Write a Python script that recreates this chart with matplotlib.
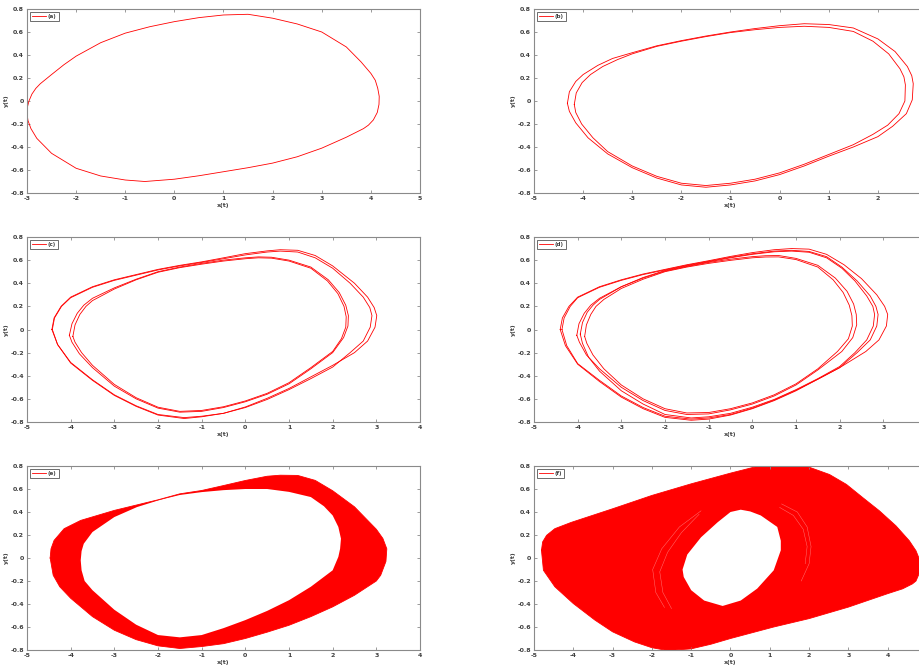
"""
x(t)-y(t) phase portraits, six panels (a)-(f)
"""
import matplotlib
matplotlib.use('Agg')
import matplotlib.pyplot as plt

plt.rcParams.update({'font.family': 'DejaVu Sans', 'axes.unicode_minus': False})

# ===== data =====
# (a) single loop
a_x = [-3.0, -2.99, -2.96, -2.9, -2.82, -2.73, -2.5, -2.25, -2.0, -1.5, -1.0, -0.5, 0.0, 0.5, 1.0, 1.5, 2.0, 2.5, 3.0, 3.5, 3.8, 4.0,
       4.09, 4.14, 4.17, 4.165, 4.13, 4.05, 3.95, 3.85, 3.5, 3.0, 2.5, 2.0, 1.5, 1.0, 0.5, 0.0, -0.6, -1.0, -1.5, -2.0, -2.5, -2.8,
       -2.92, -2.98, -3.0]
a_y = [-0.11, -0.05, 0.0, 0.06, 0.11, 0.15, 0.23, 0.315, 0.39, 0.507, 0.59, 0.646, 0.69, 0.725, 0.748, 0.754, 0.72, 0.67, 0.60, 0.47, 0.34, 0.24,
       0.18, 0.11, 0.04, -0.03, -0.1, -0.165, -0.21, -0.24, -0.315, -0.41, -0.485, -0.54, -0.58, -0.615, -0.65, -0.68, -0.70, -0.687, -0.652, -0.585, -0.455, -0.325,
       -0.24, -0.17, -0.11]

# (b) two loops
b1_x = [-4.32, -4.28, -4.15, -4.0, -3.7, -3.4, -3.0, -2.5, -2.0, -1.5, -1.0, -0.5, 0.0, 0.5, 1.0, 1.5, 2.0, 2.35, 2.6, 2.69, 2.72,
        2.7, 2.58, 2.3, 2.0, 1.5, 1.0, 0.5, 0.0, -0.5, -1.0, -1.5, -2.0, -2.5, -3.0, -3.5, -3.9, -4.15, -4.28, -4.32]
b1_y = [-0.02, 0.08, 0.17, 0.23, 0.31, 0.37, 0.42, 0.48, 0.525, 0.565, 0.60, 0.63, 0.655, 0.672, 0.665, 0.635, 0.54, 0.43, 0.30, 0.22, 0.15,
        0.01, -0.11, -0.22, -0.31, -0.40, -0.48, -0.565, -0.64, -0.695, -0.73, -0.75, -0.73, -0.67, -0.58, -0.46, -0.32, -0.19, -0.09, -0.02]
b2_x = [-4.18, -4.14, -4.02, -3.85, -3.6, -3.3, -3.0, -2.5, -2.0, -1.5, -1.0, -0.5, 0.0, 0.5, 1.0, 1.5, 1.9, 2.22, 2.45, 2.53, 2.56,
        2.55, 2.43, 2.2, 1.9, 1.5, 1.0, 0.5, 0.0, -0.5, -1.0, -1.5, -2.0, -2.5, -3.0, -3.5, -3.8, -4.03, -4.15, -4.18]
b2_y = [-0.03, 0.07, 0.16, 0.23, 0.30, 0.36, 0.41, 0.475, 0.52, 0.56, 0.595, 0.62, 0.64, 0.65, 0.64, 0.605, 0.52, 0.41, 0.28, 0.21, 0.14,
        0.0, -0.11, -0.21, -0.29, -0.38, -0.465, -0.55, -0.625, -0.68, -0.715, -0.735, -0.715, -0.655, -0.565, -0.44, -0.32, -0.2, -0.1, -0.03]

# (c) four loops
c1_x = [-4.43, -4.38, -4.22, -4.0, -3.5, -3.0, -2.5, -2.0, -1.5, -1.0, -0.5, 0.0, 0.5, 0.8, 1.2, 1.6, 2.0, 2.5, 2.8, 2.95,
        3.01, 2.97, 2.8, 2.5, 2.0, 1.5, 1.0, 0.5, 0.0, -0.5, -1.0, -1.4, -2.0, -2.5, -3.0, -3.5, -4.0, -4.3, -4.43]
c1_y = [0.0, 0.1, 0.2, 0.28, 0.37, 0.43, 0.475, 0.52, 0.555, 0.585, 0.62, 0.656, 0.68, 0.69, 0.685, 0.64, 0.55, 0.40, 0.28, 0.19,
        0.12, 0.02, -0.1, -0.2, -0.31, -0.41, -0.51, -0.595, -0.67, -0.725, -0.755, -0.77, -0.74, -0.665, -0.57, -0.44, -0.29, -0.13, 0.0]
c2_x = [-4.42, -4.37, -4.21, -4.0, -3.5, -3.0, -2.5, -2.0, -1.5, -1.0, -0.5, 0.0, 0.5, 0.8, 1.2, 1.6, 2.0, 2.4, 2.7, 2.85,
        2.9, 2.86, 2.7, 2.4, 2.0, 1.5, 1.0, 0.5, 0.0, -0.5, -1.0, -1.4, -2.0, -2.5, -3.0, -3.5, -4.0, -4.3, -4.42]
c2_y = [0.0, 0.1, 0.2, 0.275, 0.365, 0.425, 0.47, 0.515, 0.55, 0.58, 0.612, 0.645, 0.67, 0.678, 0.67, 0.62, 0.53, 0.40, 0.28, 0.19,
        0.12, 0.02, -0.1, -0.2, -0.325, -0.425, -0.52, -0.605, -0.675, -0.725, -0.75, -0.762, -0.735, -0.66, -0.565, -0.435, -0.285, -0.13, 0.0]
c3_x = [-4.03, -3.97, -3.85, -3.7, -3.5, -3.0, -2.5, -2.0, -1.5, -1.0, -0.5, 0.0, 0.3, 0.6, 1.0, 1.5, 1.9, 2.15, 2.3, 2.36,
        2.35, 2.25, 2.0, 1.5, 1.0, 0.5, 0.0, -0.5, -1.0, -1.5, -2.0, -2.5, -3.0, -3.5, -3.8, -3.97, -4.03]
c3_y = [-0.05, 0.05, 0.14, 0.21, 0.27, 0.36, 0.435, 0.50, 0.54, 0.572, 0.60, 0.62, 0.628, 0.625, 0.60, 0.54, 0.43, 0.32, 0.21, 0.12,
        0.03, -0.07, -0.2, -0.34, -0.47, -0.56, -0.625, -0.675, -0.708, -0.715, -0.68, -0.60, -0.49, -0.33, -0.21, -0.11, -0.05]
c4_x = [-3.95, -3.9, -3.79, -3.65, -3.5, -3.0, -2.5, -2.0, -1.5, -1.0, -0.5, 0.0, 0.3, 0.6, 1.0, 1.5, 1.88, 2.12, 2.26, 2.31,
        2.3, 2.2, 2.0, 1.5, 1.0, 0.5, 0.0, -0.5, -1.0, -1.5, -2.0, -2.5, -3.0, -3.5, -3.75, -3.9, -3.95]
c4_y = [-0.06, 0.04, 0.13, 0.2, 0.25, 0.35, 0.43, 0.495, 0.535, 0.565, 0.592, 0.612, 0.62, 0.617, 0.592, 0.53, 0.42, 0.31, 0.2, 0.11,
        0.02, -0.08, -0.19, -0.33, -0.46, -0.552, -0.618, -0.668, -0.7, -0.708, -0.672, -0.59, -0.475, -0.31, -0.2, -0.11, -0.06]

# (d) five loops
d1_x = [-4.40, -4.35, -4.2, -4.0, -3.5, -3.0, -2.5, -2.0, -1.5, -1.0, -0.5, 0.0, 0.5, 0.9, 1.3, 1.7, 2.1, 2.5, 2.85, 3.03,
        3.10, 3.07, 2.9, 2.6, 2.0, 1.5, 1.0, 0.5, 0.0, -0.5, -1.0, -1.4, -2.0, -2.5, -3.0, -3.5, -4.0, -4.28, -4.40]
d1_y = [0.0, 0.1, 0.2, 0.28, 0.37, 0.43, 0.48, 0.52, 0.56, 0.595, 0.632, 0.665, 0.69, 0.70, 0.695, 0.65, 0.56, 0.44, 0.30, 0.2,
        0.13, 0.03, -0.09, -0.19, -0.33, -0.43, -0.53, -0.615, -0.685, -0.74, -0.775, -0.785, -0.76, -0.685, -0.585, -0.45, -0.3, -0.14, 0.0]
d2_x = [-4.36, -4.31, -4.17, -4.0, -3.5, -3.0, -2.5, -2.0, -1.5, -1.0, -0.5, 0.0, 0.5, 0.9, 1.3, 1.7, 2.05, 2.4, 2.7, 2.83,
        2.88, 2.85, 2.7, 2.4, 2.0, 1.5, 1.0, 0.5, 0.0, -0.5, -1.0, -1.4, -2.0, -2.5, -3.0, -3.5, -4.0, -4.25, -4.36]
d2_y = [0.0, 0.1, 0.2, 0.275, 0.365, 0.425, 0.475, 0.515, 0.555, 0.59, 0.625, 0.655, 0.678, 0.685, 0.675, 0.63, 0.54, 0.42, 0.29, 0.2,
        0.13, 0.03, -0.09, -0.2, -0.33, -0.43, -0.525, -0.61, -0.68, -0.735, -0.765, -0.775, -0.75, -0.675, -0.575, -0.44, -0.295, -0.14, 0.0]
d3_x = [-3.94, -3.89, -3.78, -3.65, -3.5, -3.0, -2.5, -2.0, -1.5, -1.0, -0.5, 0.0, 0.5, 0.9, 1.3, 1.7, 2.05, 2.35, 2.62, 2.76,
        2.80, 2.77, 2.62, 2.35, 2.0, 1.5, 1.0, 0.5, 0.0, -0.5, -1.0, -1.4, -2.0, -2.5, -3.0, -3.5, -3.75, -3.89, -3.94]
d3_y = [-0.04, 0.06, 0.15, 0.21, 0.26, 0.37, 0.45, 0.51, 0.55, 0.585, 0.62, 0.65, 0.672, 0.678, 0.668, 0.62, 0.53, 0.42, 0.29, 0.2,
        0.13, 0.03, -0.09, -0.2, -0.32, -0.425, -0.52, -0.605, -0.672, -0.725, -0.755, -0.765, -0.735, -0.645, -0.53, -0.36, -0.24, -0.12, -0.04]
d4_x = [-4.02, -3.97, -3.85, -3.7, -3.5, -3.0, -2.5, -2.0, -1.5, -1.0, -0.5, 0.0, 0.3, 0.6, 1.0, 1.5, 1.9, 2.17, 2.32, 2.38,
        2.39, 2.3, 2.05, 1.5, 1.0, 0.5, 0.0, -0.5, -1.0, -1.5, -2.0, -2.5, -3.0, -3.5, -3.8, -3.96, -4.02]
d4_y = [-0.05, 0.05, 0.14, 0.21, 0.27, 0.37, 0.445, 0.505, 0.545, 0.58, 0.608, 0.63, 0.638, 0.64, 0.615, 0.555, 0.445, 0.33, 0.22, 0.13,
        0.04, -0.07, -0.19, -0.35, -0.48, -0.575, -0.645, -0.695, -0.73, -0.735, -0.70, -0.615, -0.5, -0.34, -0.22, -0.11, -0.05]
d5_x = [-3.84, -3.8, -3.7, -3.58, -3.4, -3.0, -2.5, -2.0, -1.5, -1.0, -0.5, 0.0, 0.3, 0.6, 1.0, 1.5, 1.85, 2.08, 2.22, 2.28,
        2.29, 2.2, 1.95, 1.5, 1.0, 0.5, 0.0, -0.5, -1.0, -1.5, -2.0, -2.5, -3.0, -3.4, -3.65, -3.79, -3.84]
d5_y = [-0.06, 0.04, 0.13, 0.2, 0.26, 0.355, 0.435, 0.50, 0.54, 0.572, 0.598, 0.62, 0.627, 0.628, 0.605, 0.54, 0.43, 0.32, 0.21, 0.12,
        0.03, -0.08, -0.19, -0.34, -0.47, -0.565, -0.635, -0.685, -0.718, -0.722, -0.685, -0.6, -0.48, -0.34, -0.22, -0.12, -0.06]

# (e) filled band: outer / inner edge
e_out_x = [-4.47, -4.45, -4.38, -4.15, -3.77, -3.0, -2.5, -2.0, -1.5, -1.0, -0.5, 0.0, 0.5, 0.8, 1.2, 1.6, 2.0, 2.5, 3.0, 3.15,
           3.24, 3.22, 3.1, 3.0, 2.5, 2.0, 1.5, 1.0, 0.5, 0.0, -0.5, -1.0, -1.5, -2.0, -2.5, -3.0, -3.5, -4.0, -4.25, -4.4, -4.47]
e_out_y = [0.0, 0.08, 0.153, 0.255, 0.327, 0.414, 0.46, 0.506, 0.558, 0.587, 0.63, 0.674, 0.711, 0.72, 0.718, 0.675, 0.585, 0.445, 0.25, 0.17,
           0.08, -0.03, -0.15, -0.2, -0.324, -0.425, -0.51, -0.585, -0.645, -0.70, -0.745, -0.77, -0.787, -0.764, -0.71, -0.628, -0.51, -0.35, -0.25, -0.15, 0.0]
e_in_x = [-3.77, -3.75, -3.7, -3.5, -3.0, -2.48, -2.0, -1.8, -1.5, -1.0, -0.5, 0.0, 0.5, 1.0, 1.5, 1.8, 2.0, 2.13, 2.19,
          2.17, 2.13, 2.0, 1.5, 1.0, 0.5, 0.0, -0.5, -1.0, -1.5, -2.0, -2.5, -3.0, -3.5, -3.68, -3.75, -3.77]
e_in_y = [-0.02, 0.06, 0.124, 0.226, 0.356, 0.443, 0.50, 0.52, 0.548, 0.573, 0.59, 0.60, 0.60, 0.575, 0.53, 0.45, 0.37, 0.27, 0.168,
          0.08, 0.01, -0.107, -0.25, -0.367, -0.46, -0.54, -0.61, -0.67, -0.69, -0.67, -0.58, -0.45, -0.28, -0.2, -0.107, -0.02]

# (f) filled region with a hole, plus a few thin white gaps
f_out_x = [-4.81, -4.78, -4.68, -4.47, -4.05, -3.0, -2.0, -1.0, 0.0, 0.6, 1.0, 1.5, 2.0, 2.52, 2.95, 3.37, 3.79, 4.21, 4.55, 4.72,
           4.83, 4.82, 4.72, 4.63, 4.38, 4.0, 3.0, 2.0, 1.1, 0.0, -0.5, -1.0, -1.6, -2.0, -2.44, -3.0, -3.45, -4.0, -4.47, -4.76, -4.81]
f_out_y = [0.067, 0.14, 0.197, 0.255, 0.31, 0.428, 0.544, 0.645, 0.738, 0.79, 0.81, 0.81, 0.79, 0.726, 0.64, 0.524, 0.41, 0.28, 0.15, 0.063,
           -0.03, -0.12, -0.2, -0.225, -0.268, -0.31, -0.427, -0.527, -0.6, -0.70, -0.75, -0.79, -0.805, -0.78, -0.73, -0.642, -0.54, -0.396, -0.25, -0.107, 0.067]
f_in_x = [-0.2, 0.26, 0.68, 1.1, 1.28, 1.28, 1.19, 0.77, 0.5, 0.26, 0.0, -0.33, -0.75, -1.1, -1.22, -1.19, -1.0, -0.67, -0.2]
f_in_y = [-0.417, -0.37, -0.266, -0.107, 0.067, 0.15, 0.27, 0.37, 0.405, 0.42, 0.40, 0.31, 0.18, 0.03, -0.1, -0.165, -0.28, -0.37, -0.417]
f_gap1_x = [-0.75, -1.3, -1.75, -1.98, -1.9, -1.68]
f_gap1_y = [0.41, 0.27, 0.08, -0.1, -0.3, -0.43]
f_gap2_x = [-0.8, -1.25, -1.6, -1.8, -1.72, -1.5]
f_gap2_y = [0.38, 0.22, 0.05, -0.12, -0.3, -0.44]
f_gap3_x = [1.3, 1.7, 1.95, 2.05, 2.0, 1.8]
f_gap3_y = [0.47, 0.4, 0.27, 0.1, -0.05, -0.2]
f_gap4_x = [1.25, 1.6, 1.85, 1.95, 1.9]
f_gap4_y = [0.44, 0.37, 0.25, 0.1, -0.05]

panel_names = ['(a)', '(b)', '(c)', '(d)', '(e)', '(f)']
panel_xlims = [(-3, 5), (-5, 3), (-5, 4), (-5, 4), (-5, 4), (-5, 5)]
y_ticks = [-0.8, -0.6, -0.4, -0.2, 0, 0.2, 0.4, 0.6, 0.8]
y_ticklabels = ['-0.8', '-0.6', '-0.4', '-0.2', '0', '0.2', '0.4', '0.6', '0.8']

RED = '#ff0000'
GRAY = '#8a8a8a'
TXT = '#404040'

# axes boxes in pixels (left, top, width, height) of a 920x666 figure;
# the right column runs past the figure edge like the cropped original
W, H = 920, 666
boxes = [(27, 9, 393, 184), (534, 9, 393, 184),
         (27, 237, 393, 185), (534, 237, 393, 185),
         (27, 466, 393, 184), (534, 466, 393, 184)]

fig = plt.figure(figsize=(W/100, H/100), dpi=100)
axes = []
for (l, t, w, h) in boxes:
    axes.append(fig.add_axes([l/W, (H-t-h)/H, w/W, h/H]))


def style(ax, name, xlim, cropped):
    lo, hi = xlim
    ax.set_xlim(lo, hi)
    ax.set_ylim(-0.8, 0.8)
    xt = list(range(lo, hi+1))
    labs = [str(v) for v in xt]
    if cropped:
        labs[-1] = ''   # falls outside the picture
    ax.set_xticks(xt)
    ax.set_xticklabels(labs)
    ax.set_yticks(y_ticks)
    ax.set_yticklabels(y_ticklabels)
    ax.tick_params(direction='in', length=2.2, width=0.6, color=GRAY, top=True, right=True,
                   labelsize=4.5, labelcolor=TXT, pad=2)
    for lab in ax.get_xticklabels() + ax.get_yticklabels():
        lab.set_fontweight('bold')
    for sp in ax.spines.values():
        sp.set_color(GRAY); sp.set_linewidth(0.8)
    ax.set_xlabel('x(t)', fontsize=4.5, fontweight='bold', color=TXT, labelpad=1.5)
    ax.set_ylabel('y(t)', fontsize=4.5, fontweight='bold', color=TXT, labelpad=1.5)
    leg = ax.legend(loc='upper left', fontsize=4, frameon=True, fancybox=False, edgecolor='#555555',
                    framealpha=1, borderpad=0.35, handlelength=2.6, handletextpad=0.3, borderaxespad=0.5)
    leg.get_frame().set_linewidth(0.6)
    for t in leg.get_texts():
        t.set_fontweight('bold'); t.set_color(TXT)


LW = 0.6
ax = axes[0]
ax.plot(a_x, a_y, color=RED, lw=LW, label='(a)')

ax = axes[1]
ax.plot(b1_x, b1_y, color=RED, lw=LW, label='(b)')
ax.plot(b2_x, b2_y, color=RED, lw=LW)

ax = axes[2]
ax.plot(c1_x, c1_y, color=RED, lw=LW, label='(c)')
for lx, ly in [(c2_x, c2_y), (c3_x, c3_y), (c4_x, c4_y)]:
    ax.plot(lx, ly, color=RED, lw=LW)

ax = axes[3]
ax.plot(d1_x, d1_y, color=RED, lw=LW, label='(d)')
for lx, ly in [(d2_x, d2_y), (d3_x, d3_y), (d4_x, d4_y), (d5_x, d5_y)]:
    ax.plot(lx, ly, color=RED, lw=LW)

ax = axes[4]
ax.fill(e_out_x, e_out_y, color=RED, lw=0)
ax.fill(e_in_x, e_in_y, color='white', lw=0)
ax.plot(e_out_x, e_out_y, color=RED, lw=LW, label='(e)')

ax = axes[5]
ax.fill(f_out_x, f_out_y, color=RED, lw=0)
ax.fill(f_in_x, f_in_y, color='white', lw=0)
for gx, gy in [(f_gap1_x, f_gap1_y), (f_gap2_x, f_gap2_y), (f_gap3_x, f_gap3_y), (f_gap4_x, f_gap4_y)]:
    ax.plot(gx, gy, color='white', lw=0.35, alpha=0.45)
ax.plot(f_out_x, f_out_y, color=RED, lw=LW, label='(f)')

for i, (ax, name, xl) in enumerate(zip(axes, panel_names, panel_xlims)):
    style(ax, name, xl, cropped=(i % 2 == 1))

plt.savefig('out.png', dpi=100)
plt.close()
